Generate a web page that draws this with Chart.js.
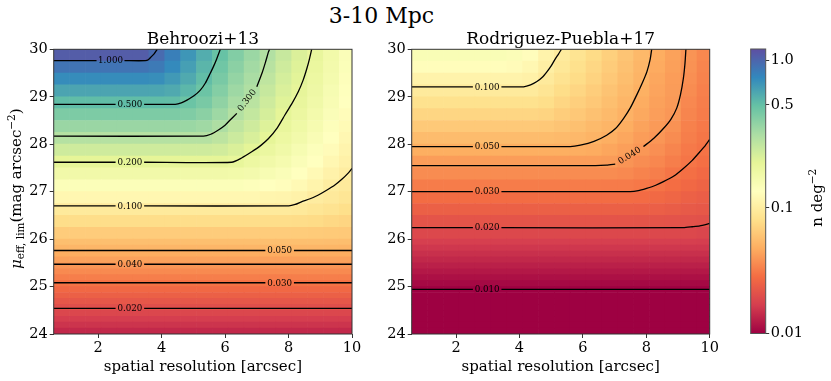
<!DOCTYPE html>
<html lang="en">
<head>
<meta charset="UTF-8">
<title>3-10 Mpc</title>
<script src="https://cdn.jsdelivr.net/npm/chart.js"></script>
<style>
  body { margin: 0; width: 831px; height: 381px; position: relative; overflow: hidden; background: #fff; font-family: 'DejaVu Serif', serif; }
  .panel { position: absolute; top: 0; height: 381px; }
  #suptitle { position: absolute; left: 0; width: 763px; top: 3px; text-align: center; font-size: 22px; line-height: 26px; color: #000; }
</style>
</head>
<body>
<div id="suptitle">3-10 Mpc</div>
<div class="panel" style="left:0;width:375px"><canvas id="left"></canvas></div>
<div class="panel" style="left:360px;width:375px"><canvas id="right"></canvas></div>
<div class="panel" style="left:735px;width:96px"><canvas id="cbar"></canvas></div>
<script>
// grid of the maps: column centres (arcsec) and row edges (mag arcsec^-2), top row first
// (finer rows below 26 where the maps only change with depth)
const xCenters = [0.85, 1.35, 1.85, 2.35, 2.85, 3.35, 3.85, 4.35, 4.85, 5.35, 5.85, 6.35, 6.85, 7.35, 7.85, 8.35, 8.85, 9.35, 9.85];
const yEdges = [30, 29.75, 29.5, 29.25, 29, 28.75, 28.5, 28.25, 28, 27.75, 27.5, 27.25, 27, 26.75, 26.5, 26.25, 26,
    25.875, 25.75, 25.625, 25.5, 25.375, 25.25, 25.125, 25, 24.875, 24.75, 24.625, 24.5, 24.375, 24.25, 24.125, 24];

// n deg^-2, Behroozi+13 (rows from top)
const behroozi = [
  [1.08, 1.08, 1.08, 1.08, 1.08, 1.08, 0.966, 0.822, 0.692, 0.578, 0.490, 0.412, 0.350, 0.299, 0.255, 0.220, 0.191, 0.164, 0.141],
  [0.899, 0.899, 0.899, 0.899, 0.899, 0.899, 0.861, 0.759, 0.646, 0.543, 0.462, 0.389, 0.333, 0.285, 0.243, 0.213, 0.186, 0.160, 0.138],
  [0.745, 0.745, 0.745, 0.745, 0.745, 0.745, 0.733, 0.676, 0.596, 0.511, 0.437, 0.367, 0.318, 0.271, 0.232, 0.206, 0.180, 0.157, 0.135],
  [0.618, 0.618, 0.618, 0.618, 0.618, 0.618, 0.614, 0.596, 0.537, 0.473, 0.407, 0.343, 0.303, 0.257, 0.222, 0.198, 0.174, 0.151, 0.132],
  [0.513, 0.513, 0.513, 0.513, 0.513, 0.513, 0.513, 0.511, 0.476, 0.437, 0.376, 0.320, 0.282, 0.243, 0.211, 0.191, 0.168, 0.146, 0.129],
  [0.425, 0.425, 0.425, 0.425, 0.425, 0.425, 0.425, 0.425, 0.417, 0.389, 0.343, 0.298, 0.263, 0.229, 0.202, 0.182, 0.160, 0.141, 0.124],
  [0.353, 0.353, 0.353, 0.353, 0.353, 0.353, 0.353, 0.353, 0.351, 0.339, 0.309, 0.272, 0.243, 0.215, 0.191, 0.172, 0.153, 0.135, 0.120],
  [0.293, 0.293, 0.293, 0.293, 0.293, 0.293, 0.293, 0.293, 0.293, 0.292, 0.275, 0.248, 0.224, 0.202, 0.180, 0.162, 0.145, 0.129, 0.116],
  [0.243, 0.243, 0.243, 0.243, 0.243, 0.243, 0.243, 0.243, 0.243, 0.243, 0.237, 0.221, 0.204, 0.184, 0.168, 0.151, 0.136, 0.123, 0.111],
  [0.201, 0.201, 0.201, 0.201, 0.201, 0.201, 0.201, 0.201, 0.201, 0.201, 0.201, 0.195, 0.180, 0.166, 0.155, 0.141, 0.129, 0.116, 0.106],
  [0.167, 0.167, 0.167, 0.167, 0.167, 0.167, 0.167, 0.167, 0.167, 0.167, 0.167, 0.164, 0.159, 0.148, 0.141, 0.130, 0.119, 0.108, 0.100],
  [0.138, 0.138, 0.138, 0.138, 0.138, 0.138, 0.138, 0.138, 0.138, 0.138, 0.138, 0.138, 0.135, 0.130, 0.126, 0.119, 0.110, 0.100, 0.0955],
  [0.115, 0.115, 0.115, 0.115, 0.115, 0.115, 0.115, 0.115, 0.115, 0.115, 0.115, 0.115, 0.115, 0.112, 0.111, 0.107, 0.099, 0.094, 0.089],
  [0.0952, 0.0952, 0.0952, 0.0952, 0.0952, 0.0952, 0.0952, 0.0952, 0.0952, 0.0952, 0.0952, 0.0952, 0.0952, 0.0952, 0.0952, 0.0933, 0.0891, 0.0851, 0.0804],
  [0.0789, 0.0789, 0.0789, 0.0789, 0.0789, 0.0789, 0.0789, 0.0789, 0.0789, 0.0789, 0.0789, 0.0789, 0.0789, 0.0789, 0.0789, 0.0780, 0.0767, 0.0741, 0.0716],
  [0.0655, 0.0655, 0.0655, 0.0655, 0.0655, 0.0655, 0.0655, 0.0655, 0.0655, 0.0655, 0.0655, 0.0655, 0.0655, 0.0655, 0.0655, 0.0650, 0.0644, 0.0638, 0.0631],
  [0.0569, 0.0569, 0.0569, 0.0569, 0.0569, 0.0569, 0.0569, 0.0569, 0.0569, 0.0569, 0.0569, 0.0569, 0.0569, 0.0569, 0.0569, 0.0569, 0.0568, 0.0565, 0.0561],
  [0.0518, 0.0518, 0.0518, 0.0518, 0.0518, 0.0518, 0.0518, 0.0518, 0.0518, 0.0518, 0.0518, 0.0518, 0.0518, 0.0518, 0.0518, 0.0518, 0.0518, 0.0517, 0.0515],
  [0.0472, 0.0472, 0.0472, 0.0472, 0.0472, 0.0472, 0.0472, 0.0472, 0.0472, 0.0472, 0.0472, 0.0472, 0.0472, 0.0472, 0.0472, 0.0472, 0.0472, 0.0472, 0.0472],
  [0.0430, 0.0430, 0.0430, 0.0430, 0.0430, 0.0430, 0.0430, 0.0430, 0.0430, 0.0430, 0.0430, 0.0430, 0.0430, 0.0430, 0.0430, 0.0430, 0.0430, 0.0430, 0.0430],
  [0.0391, 0.0391, 0.0391, 0.0391, 0.0391, 0.0391, 0.0391, 0.0391, 0.0391, 0.0391, 0.0391, 0.0391, 0.0391, 0.0391, 0.0391, 0.0391, 0.0391, 0.0391, 0.0391],
  [0.0357, 0.0357, 0.0357, 0.0357, 0.0357, 0.0357, 0.0357, 0.0357, 0.0357, 0.0357, 0.0357, 0.0357, 0.0357, 0.0357, 0.0357, 0.0357, 0.0357, 0.0357, 0.0357],
  [0.0325, 0.0325, 0.0325, 0.0325, 0.0325, 0.0325, 0.0325, 0.0325, 0.0325, 0.0325, 0.0325, 0.0325, 0.0325, 0.0325, 0.0325, 0.0325, 0.0325, 0.0325, 0.0325],
  [0.0296, 0.0296, 0.0296, 0.0296, 0.0296, 0.0296, 0.0296, 0.0296, 0.0296, 0.0296, 0.0296, 0.0296, 0.0296, 0.0296, 0.0296, 0.0296, 0.0296, 0.0296, 0.0296],
  [0.0269, 0.0269, 0.0269, 0.0269, 0.0269, 0.0269, 0.0269, 0.0269, 0.0269, 0.0269, 0.0269, 0.0269, 0.0269, 0.0269, 0.0269, 0.0269, 0.0269, 0.0269, 0.0269],
  [0.0245, 0.0245, 0.0245, 0.0245, 0.0245, 0.0245, 0.0245, 0.0245, 0.0245, 0.0245, 0.0245, 0.0245, 0.0245, 0.0245, 0.0245, 0.0245, 0.0245, 0.0245, 0.0245],
  [0.0223, 0.0223, 0.0223, 0.0223, 0.0223, 0.0223, 0.0223, 0.0223, 0.0223, 0.0223, 0.0223, 0.0223, 0.0223, 0.0223, 0.0223, 0.0223, 0.0223, 0.0223, 0.0223],
  [0.0203, 0.0203, 0.0203, 0.0203, 0.0203, 0.0203, 0.0203, 0.0203, 0.0203, 0.0203, 0.0203, 0.0203, 0.0203, 0.0203, 0.0203, 0.0203, 0.0203, 0.0203, 0.0203],
  [0.0185, 0.0185, 0.0185, 0.0185, 0.0185, 0.0185, 0.0185, 0.0185, 0.0185, 0.0185, 0.0185, 0.0185, 0.0185, 0.0185, 0.0185, 0.0185, 0.0185, 0.0185, 0.0185],
  [0.0169, 0.0169, 0.0169, 0.0169, 0.0169, 0.0169, 0.0169, 0.0169, 0.0169, 0.0169, 0.0169, 0.0169, 0.0169, 0.0169, 0.0169, 0.0169, 0.0169, 0.0169, 0.0169],
  [0.0154, 0.0154, 0.0154, 0.0154, 0.0154, 0.0154, 0.0154, 0.0154, 0.0154, 0.0154, 0.0154, 0.0154, 0.0154, 0.0154, 0.0154, 0.0154, 0.0154, 0.0154, 0.0154],
  [0.0140, 0.0140, 0.0140, 0.0140, 0.0140, 0.0140, 0.0140, 0.0140, 0.0140, 0.0140, 0.0140, 0.0140, 0.0140, 0.0140, 0.0140, 0.0140, 0.0140, 0.0140, 0.0140]
];

// n deg^-2, Rodriguez-Puebla+17 (rows from top)
const rodriguez = [
  [0.143, 0.143, 0.143, 0.143, 0.143, 0.143, 0.140, 0.126, 0.109, 0.0973, 0.0861, 0.0767, 0.0679, 0.0603, 0.0533, 0.0476, 0.0432, 0.0388, 0.0352],
  [0.125, 0.125, 0.125, 0.125, 0.125, 0.125, 0.123, 0.116, 0.103, 0.0912, 0.0822, 0.0733, 0.0650, 0.0582, 0.0520, 0.0465, 0.0425, 0.0380, 0.0344],
  [0.109, 0.109, 0.109, 0.109, 0.109, 0.109, 0.109, 0.106, 0.0955, 0.0851, 0.0776, 0.0700, 0.0624, 0.0562, 0.0506, 0.0453, 0.0418, 0.0372, 0.0337],
  [0.0955, 0.0955, 0.0955, 0.0955, 0.0955, 0.0955, 0.0955, 0.0951, 0.0881, 0.0785, 0.0724, 0.0661, 0.0596, 0.0543, 0.0492, 0.0442, 0.0412, 0.0362, 0.0330],
  [0.0832, 0.0832, 0.0832, 0.0832, 0.0832, 0.0832, 0.0832, 0.0832, 0.0794, 0.0724, 0.0676, 0.0624, 0.0569, 0.0521, 0.0475, 0.0431, 0.0406, 0.0353, 0.0325],
  [0.0724, 0.0724, 0.0724, 0.0724, 0.0724, 0.0724, 0.0724, 0.0724, 0.0708, 0.0661, 0.0624, 0.0582, 0.0543, 0.0500, 0.0457, 0.0419, 0.0398, 0.0344, 0.0319],
  [0.0632, 0.0632, 0.0632, 0.0632, 0.0632, 0.0632, 0.0632, 0.0632, 0.0624, 0.0603, 0.0575, 0.0543, 0.0513, 0.0479, 0.0437, 0.0407, 0.0382, 0.0334, 0.0313],
  [0.0551, 0.0551, 0.0551, 0.0551, 0.0551, 0.0551, 0.0551, 0.0551, 0.0550, 0.0543, 0.0531, 0.0507, 0.0484, 0.0450, 0.0417, 0.0394, 0.0363, 0.0324, 0.0305],
  [0.0480, 0.0480, 0.0480, 0.0480, 0.0480, 0.0480, 0.0480, 0.0480, 0.0480, 0.0480, 0.0476, 0.0468, 0.0449, 0.0422, 0.0396, 0.0372, 0.0343, 0.0313, 0.0297],
  [0.0417, 0.0417, 0.0417, 0.0417, 0.0417, 0.0417, 0.0417, 0.0417, 0.0417, 0.0417, 0.0417, 0.0415, 0.0412, 0.0389, 0.0367, 0.0348, 0.0324, 0.0302, 0.0288],
  [0.0364, 0.0364, 0.0364, 0.0364, 0.0364, 0.0364, 0.0364, 0.0364, 0.0364, 0.0364, 0.0364, 0.0364, 0.0363, 0.0355, 0.0339, 0.0324, 0.0302, 0.0287, 0.0272],
  [0.0319, 0.0319, 0.0319, 0.0319, 0.0319, 0.0319, 0.0319, 0.0319, 0.0319, 0.0319, 0.0319, 0.0319, 0.0318, 0.0318, 0.0310, 0.0297, 0.0284, 0.0269, 0.0257],
  [0.0279, 0.0279, 0.0279, 0.0279, 0.0279, 0.0279, 0.0279, 0.0279, 0.0279, 0.0279, 0.0279, 0.0279, 0.0279, 0.0279, 0.0277, 0.0271, 0.0262, 0.0249, 0.0240],
  [0.0245, 0.0245, 0.0245, 0.0245, 0.0245, 0.0245, 0.0245, 0.0245, 0.0245, 0.0245, 0.0245, 0.0245, 0.0245, 0.0245, 0.0244, 0.0242, 0.0237, 0.0229, 0.0224],
  [0.0215, 0.0215, 0.0215, 0.0215, 0.0215, 0.0215, 0.0215, 0.0215, 0.0215, 0.0215, 0.0215, 0.0215, 0.0215, 0.0215, 0.0214, 0.0214, 0.0213, 0.0209, 0.0207],
  [0.0188, 0.0188, 0.0188, 0.0188, 0.0188, 0.0188, 0.0188, 0.0188, 0.0188, 0.0188, 0.0188, 0.0188, 0.0188, 0.0188, 0.0188, 0.0188, 0.0188, 0.0188, 0.0184],
  [0.0170, 0.0170, 0.0170, 0.0170, 0.0170, 0.0170, 0.0170, 0.0170, 0.0170, 0.0170, 0.0170, 0.0170, 0.0170, 0.0170, 0.0170, 0.0170, 0.0170, 0.0170, 0.0168],
  [0.0159, 0.0159, 0.0159, 0.0159, 0.0159, 0.0159, 0.0159, 0.0159, 0.0159, 0.0159, 0.0159, 0.0159, 0.0159, 0.0159, 0.0159, 0.0159, 0.0159, 0.0159, 0.0159],
  [0.0149, 0.0149, 0.0149, 0.0149, 0.0149, 0.0149, 0.0149, 0.0149, 0.0149, 0.0149, 0.0149, 0.0149, 0.0149, 0.0149, 0.0149, 0.0149, 0.0149, 0.0149, 0.0149],
  [0.0139, 0.0139, 0.0139, 0.0139, 0.0139, 0.0139, 0.0139, 0.0139, 0.0139, 0.0139, 0.0139, 0.0139, 0.0139, 0.0139, 0.0139, 0.0139, 0.0139, 0.0139, 0.0139],
  [0.0130, 0.0130, 0.0130, 0.0130, 0.0130, 0.0130, 0.0130, 0.0130, 0.0130, 0.0130, 0.0130, 0.0130, 0.0130, 0.0130, 0.0130, 0.0130, 0.0130, 0.0130, 0.0130],
  [0.0122, 0.0122, 0.0122, 0.0122, 0.0122, 0.0122, 0.0122, 0.0122, 0.0122, 0.0122, 0.0122, 0.0122, 0.0122, 0.0122, 0.0122, 0.0122, 0.0122, 0.0122, 0.0122],
  [0.0114, 0.0114, 0.0114, 0.0114, 0.0114, 0.0114, 0.0114, 0.0114, 0.0114, 0.0114, 0.0114, 0.0114, 0.0114, 0.0114, 0.0114, 0.0114, 0.0114, 0.0114, 0.0114],
  [0.0107, 0.0107, 0.0107, 0.0107, 0.0107, 0.0107, 0.0107, 0.0107, 0.0107, 0.0107, 0.0107, 0.0107, 0.0107, 0.0107, 0.0107, 0.0107, 0.0107, 0.0107, 0.0107],
  [0.00999, 0.00999, 0.00999, 0.00999, 0.00999, 0.00999, 0.00999, 0.00999, 0.00999, 0.00999, 0.00999, 0.00999, 0.00999, 0.00999, 0.00999, 0.00999, 0.00999, 0.00999, 0.00999],
  [0.00934, 0.00934, 0.00934, 0.00934, 0.00934, 0.00934, 0.00934, 0.00934, 0.00934, 0.00934, 0.00934, 0.00934, 0.00934, 0.00934, 0.00934, 0.00934, 0.00934, 0.00934, 0.00934],
  [0.00874, 0.00874, 0.00874, 0.00874, 0.00874, 0.00874, 0.00874, 0.00874, 0.00874, 0.00874, 0.00874, 0.00874, 0.00874, 0.00874, 0.00874, 0.00874, 0.00874, 0.00874, 0.00874],
  [0.00818, 0.00818, 0.00818, 0.00818, 0.00818, 0.00818, 0.00818, 0.00818, 0.00818, 0.00818, 0.00818, 0.00818, 0.00818, 0.00818, 0.00818, 0.00818, 0.00818, 0.00818, 0.00818],
  [0.00765, 0.00765, 0.00765, 0.00765, 0.00765, 0.00765, 0.00765, 0.00765, 0.00765, 0.00765, 0.00765, 0.00765, 0.00765, 0.00765, 0.00765, 0.00765, 0.00765, 0.00765, 0.00765],
  [0.00716, 0.00716, 0.00716, 0.00716, 0.00716, 0.00716, 0.00716, 0.00716, 0.00716, 0.00716, 0.00716, 0.00716, 0.00716, 0.00716, 0.00716, 0.00716, 0.00716, 0.00716, 0.00716],
  [0.00670, 0.00670, 0.00670, 0.00670, 0.00670, 0.00670, 0.00670, 0.00670, 0.00670, 0.00670, 0.00670, 0.00670, 0.00670, 0.00670, 0.00670, 0.00670, 0.00670, 0.00670, 0.00670],
  [0.00626, 0.00626, 0.00626, 0.00626, 0.00626, 0.00626, 0.00626, 0.00626, 0.00626, 0.00626, 0.00626, 0.00626, 0.00626, 0.00626, 0.00626, 0.00626, 0.00626, 0.00626, 0.00626]
];

// contour lines [x, y]; null = gap where the level label sits
const bLevels = ['1.000', '0.500', '0.300', '0.200', '0.100', '0.050', '0.040', '0.030', '0.020'];
const bLines = [
  [[0.6, 29.76], [1.95, 29.76], null, [2.83, 29.76], [3.49, 29.76], [3.58, 29.78], [3.67, 29.84], [3.77, 29.91], [3.86, 30]],
  [[0.6, 28.84], [2.55, 28.84], null, [3.45, 28.84], [4.43, 28.84], [4.62, 28.87], [4.80, 28.93], [5.02, 29.02], [5.22, 29.14], [5.38, 29.29], [5.53, 29.49], [5.63, 29.63], [5.72, 29.77], [5.85, 30]],
  [[0.6, 28.17], [5.32, 28.17], [5.55, 28.21], [5.79, 28.30], [6.0, 28.40], [6.16, 28.51], [6.37, 28.65], null, [7.0, 29.21], [7.16, 29.49], [7.27, 29.72], [7.37, 29.95], [7.40, 30]],
  [[0.6, 27.62], [2.55, 27.62], null, [3.45, 27.62], [6.21, 27.62], [6.52, 27.71], [6.84, 27.84], [7.12, 27.97], [7.37, 28.12], [7.64, 28.34], [7.89, 28.62], [8.11, 28.86], [8.31, 29.11], [8.46, 29.35], [8.58, 29.60], [8.66, 29.80], [8.73, 30]],
  [[0.6, 26.70], [2.55, 26.70], null, [3.45, 26.70], [8.01, 26.70], [8.21, 26.73], [8.42, 26.79], [8.68, 26.85], [8.94, 26.93], [9.2, 27.03], [9.46, 27.14], [9.68, 27.26], [9.88, 27.39], [10, 27.49]],
  [[0.6, 25.76], [7.27, 25.76], null, [8.17, 25.76], [10, 25.76]],
  [[0.6, 25.47], [2.55, 25.47], null, [3.45, 25.47], [10, 25.47]],
  [[0.6, 25.08], [7.27, 25.08], null, [8.17, 25.08], [10, 25.08]],
  [[0.6, 24.54], [2.55, 24.54], null, [3.45, 24.54], [10, 24.54]]
];

const rLevels = ['0.100', '0.050', '0.040', '0.030', '0.020', '0.010'];
const rLines = [
  [[0.6, 29.21], [2.53, 29.21], null, [3.43, 29.21], [4.13, 29.21], [4.35, 29.25], [4.55, 29.32], [4.72, 29.41], [4.87, 29.53], [5.0, 29.65], [5.13, 29.80], [5.23, 29.90], [5.32, 30]],
  [[0.6, 27.95], [2.53, 27.95], null, [3.43, 27.95], [5.60, 27.95], [5.92, 27.98], [6.35, 28.06], [6.75, 28.19], [7.03, 28.33], [7.28, 28.54], [7.50, 28.77], [7.70, 29.04], [7.88, 29.30], [8.02, 29.53], [8.12, 29.78], [8.17, 30]],
  [[0.6, 27.55], [6.4, 27.55], [6.75, 27.56], [7.02, 27.58], null, [7.91, 27.95], [8.23, 28.12], [8.54, 28.33], [8.78, 28.53], [8.96, 28.76], [9.08, 29.05], [9.17, 29.39], [9.22, 29.70], [9.25, 30]],
  [[0.6, 27.0], [2.53, 27.0], null, [3.43, 27.0], [7.49, 27.0], [7.75, 27.02], [8.01, 27.07], [8.28, 27.13], [8.54, 27.21], [8.87, 27.33], [9.17, 27.49], [9.45, 27.66], [9.69, 27.84], [9.86, 27.97], [10, 28.10]],
  [[0.6, 26.24], [2.53, 26.24], null, [3.43, 26.24], [9.17, 26.24], [9.45, 26.26], [9.69, 26.28], [10, 26.33]],
  [[0.6, 24.94], [2.53, 24.94], null, [3.43, 24.94], [10, 24.94]]
];

// colour bar
const cbarTicks = [0.01, 0.1, 0.5, 1.0];
const cbarTickLabels = ['0.01', '0.1', '0.5', '1.0'];
const spectral = ['#9e0142', '#d53e4f', '#f46d43', '#fdae61', '#fee08b', '#ffffbf', '#e6f598', '#abdda4', '#66c2a5', '#3288bd', '#5e4fa2'];

const serif = "'DejaVu Serif'";
Chart.defaults.font.family = serif;

// value -> position on the colour bar (0 bottom, 1 top)
function norm(v) {
    var f = v <= 0.1 ? 0.442 * Math.log10(v / 0.01) : 0.442 + 0.517 * Math.log10(v / 0.1);
    return Math.min(1, Math.max(0, f));
}

function rgb(h) {
    return [parseInt(h.slice(1, 3), 16), parseInt(h.slice(3, 5), 16), parseInt(h.slice(5, 7), 16)];
}

function cmap(f) {
    var p = f * 10;
    var i = Math.min(9, Math.floor(p));
    var t = p - i;
    var a = rgb(spectral[i]), b = rgb(spectral[i + 1]);
    var c = a.map((v, k) => Math.round(v + (b[k] - v) * t));
    return 'rgb(' + c.join(',') + ')';
}

function cells(grid) {
    var pts = [], cols = [];
    grid.forEach((row, r) => row.forEach((v, c) => {
        pts.push({ x: xCenters[c], y: [yEdges[r + 1], yEdges[r]] });
        cols.push(cmap(norm(v)));
    }));
    return { pts: pts, cols: cols };
}

function contourSets(lines, levels) {
    return lines.map((pts, i) => ({
        type: 'line',
        label: levels[i],
        order: 1,
        data: pts.map((p, j) => p ? { x: p[0], y: p[1] } : { x: (pts[j - 1][0] + pts[j + 1][0]) / 2, y: null }),
        borderColor: '#000',
        borderWidth: 1.3,
        pointRadius: 0,
        tension: 0.2,
        spanGaps: false
    }));
}

// inline contour labels + the box round the map
const deco = {
    id: 'deco',
    afterDatasetsDraw(chart) {
        const ctx = chart.ctx, xs = chart.scales.x, ys = chart.scales.y;
        chart.data.datasets.forEach(ds => {
            if (ds.type !== 'line') return;
            const i = ds.data.findIndex(p => p.y === null);
            if (i < 0) return;
            const a = ds.data[i - 1], b = ds.data[i + 1];
            const ax = xs.getPixelForValue(a.x), ay = ys.getPixelForValue(a.y);
            const bx = xs.getPixelForValue(b.x), by = ys.getPixelForValue(b.y);
            ctx.save();
            ctx.translate((ax + bx) / 2, (ay + by) / 2);
            ctx.rotate(Math.atan2(by - ay, bx - ax));
            ctx.font = '8.7px ' + serif;
            ctx.fillStyle = '#000';
            ctx.textAlign = 'center';
            ctx.textBaseline = 'middle';
            ctx.fillText(ds.label, 0, 0.5);
            ctx.restore();
        });
    },
    afterDraw(chart) {
        const ctx = chart.ctx, ca = chart.chartArea;
        ctx.save();
        ctx.strokeStyle = '#333';
        ctx.lineWidth = 1;
        ctx.strokeRect(ca.left, ca.top, ca.right - ca.left, ca.bottom - ca.top);
        ctx.restore();
    }
};

// rotated label with sub/superscripts: parts = [text, size, italic, shift]
function vLabel(parts, baseX, shiftY) {
    return {
        id: 'vLabel',
        afterDraw(chart) {
            const ctx = chart.ctx, ca = chart.chartArea;
            const fonts = parts.map(p => (p[2] ? 'italic ' : '') + p[1] + 'px ' + serif);
            let total = 0;
            ctx.save();
            parts.forEach((p, i) => { ctx.font = fonts[i]; total += ctx.measureText(p[0]).width; });
            ctx.translate(baseX, (ca.top + ca.bottom) / 2 + shiftY);
            ctx.rotate(-Math.PI / 2);
            ctx.fillStyle = '#000';
            ctx.textBaseline = 'alphabetic';
            let x = -total / 2;
            parts.forEach((p, i) => {
                ctx.font = fonts[i];
                ctx.fillText(p[0], x, p[3]);
                x += ctx.measureText(p[0]).width;
            });
            ctx.restore();
        }
    };
}

function panel(id, title, grid, lines, levels, yWidth, padRight, extra) {
    const c = cells(grid);
    const axisGrid = { drawOnChartArea: false, tickLength: 4, color: '#333', tickWidth: 1 };
    return new Chart(document.getElementById(id), {
        type: 'bar',
        data: {
            datasets: [{
                type: 'bar', order: 2, data: c.pts, backgroundColor: c.cols,
                borderWidth: 0, barPercentage: 1, categoryPercentage: 1, clip: 0
            }].concat(contourSets(lines, levels))
        },
        options: {
            responsive: true,
            maintainAspectRatio: false,
            animation: false,
            layout: { padding: { left: 0, right: padRight, top: 0, bottom: 0 } },
            plugins: {
                legend: { display: false },
                tooltip: { enabled: false },
                title: {
                    display: true, text: title, fullSize: false, color: '#000',
                    font: { family: serif, size: 17, weight: 'normal', lineHeight: 1 },
                    padding: { top: 31, bottom: 1.3 }
                }
            },
            scales: {
                x: {
                    type: 'linear', min: 0.6, max: 10, offset: false,
                    afterFit: s => { s.height = 47; },
                    ticks: { stepSize: 2, includeBounds: false, color: '#000', font: { size: 14.5 }, padding: 2, maxRotation: 0 },
                    grid: Object.assign({ offset: false }, axisGrid),
                    border: { display: false },
                    title: {
                        display: true, text: 'spatial resolution [arcsec]', color: '#000',
                        font: { size: 15 }, padding: { top: 0, bottom: 4.7 }
                    }
                },
                y: {
                    type: 'linear', min: 24, max: 30,
                    afterFit: s => { s.width = yWidth; },
                    ticks: { stepSize: 1, color: '#000', font: { size: 14.5 }, padding: 2 },
                    grid: axisGrid,
                    border: { display: false }
                }
            }
        },
        plugins: [deco].concat(extra)
    });
}

panel('left', 'Behroozi+13', behroozi, bLines, bLevels, 53.7, 23, [
    vLabel([['μ', 15, true, 0], ['eff, lim', 10.5, false, 3], ['(mag arcsec', 15, false, 0], ['−2', 10.5, false, -6], [')', 15, false, 0]], 20.5, -3)
]);
panel('right', 'Rodriguez-Puebla+17', rodriguez, rLines, rLevels, 51.7, 25.3, []);

// colour bar drawn along its own axis
const cbarFill = {
    id: 'cbarFill',
    beforeDatasetsDraw(chart) {
        const ctx = chart.ctx, ys = chart.scales.y, ca = chart.chartArea;
        const g = ctx.createLinearGradient(0, ys.getPixelForValue(0), 0, ys.getPixelForValue(1));
        spectral.forEach((c, i) => g.addColorStop(i / 10, c));
        ctx.save();
        ctx.fillStyle = g;
        ctx.fillRect(ca.left, ca.top, ca.right - ca.left, ca.bottom - ca.top);
        ctx.strokeStyle = '#555';
        ctx.lineWidth = 1;
        ctx.strokeRect(ca.left, ca.top, ca.right - ca.left, ca.bottom - ca.top);
        ctx.restore();
    }
};

new Chart(document.getElementById('cbar'), {
    type: 'bar',
    data: { labels: [], datasets: [] },
    options: {
        responsive: true,
        maintainAspectRatio: false,
        animation: false,
        layout: { padding: { left: 15.7, right: 0, top: 49, bottom: 47.5 } },
        plugins: { legend: { display: false }, tooltip: { enabled: false } },
        scales: {
            x: { display: false },
            y: {
                position: 'right', type: 'linear', min: 0, max: 1,
                afterFit: s => { s.width = 65.3; },
                afterBuildTicks: s => { s.ticks = cbarTicks.map(v => ({ value: norm(v) })); },
                ticks: { callback: (v, i) => cbarTickLabels[i], color: '#000', font: { size: 14.5 }, padding: 1.5 },
                grid: { drawOnChartArea: false, tickLength: 3.5, color: '#333' },
                border: { display: false }
            }
        }
    },
    plugins: [cbarFill, vLabel([['n deg', 15, false, 0], ['−2', 10.5, false, -6]], 86.7, 6.5)]
});
</script>
</body>
</html>
